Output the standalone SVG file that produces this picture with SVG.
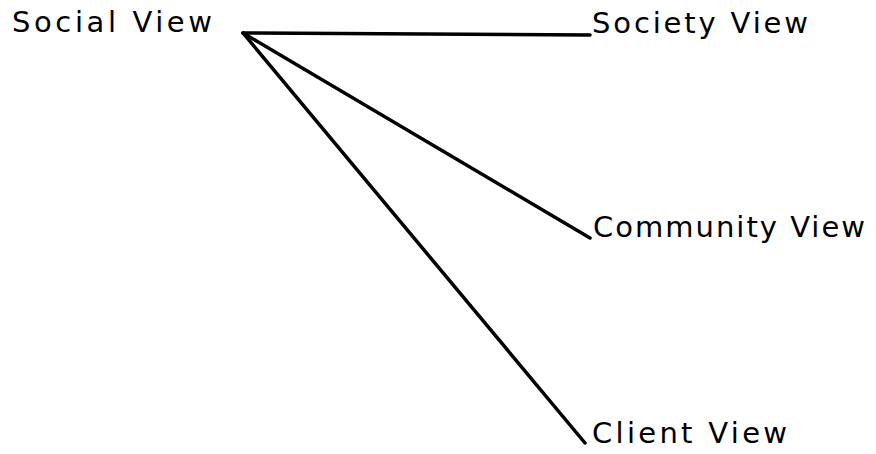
<svg xmlns="http://www.w3.org/2000/svg" width="876" height="454" viewBox="0 0 876 454">
<style>
  .lbl { font-family: "DejaVu Sans", "Liberation Sans", sans-serif; font-size: 29px; fill: #000; }
  .edge { stroke: #000; stroke-width: 3.5; fill: none; stroke-linecap: round; }
</style>
<rect width="876" height="454" fill="#fff"/>
<g id="connectors">
  <line class="edge" x1="243" y1="33" x2="590" y2="35"/>
  <line class="edge" x1="243" y1="33" x2="590" y2="238"/>
  <line class="edge" x1="243" y1="33" x2="585" y2="443"/>
</g>
<g id="social-view"><text class="lbl" x="12" y="32" textLength="200" lengthAdjust="spacing">Social View</text></g>
<g id="society-view"><text class="lbl" x="592" y="33" textLength="216" lengthAdjust="spacing">Society View</text></g>
<g id="community-view"><text class="lbl" x="593" y="237" textLength="272" lengthAdjust="spacing">Community View</text></g>
<g id="client-view"><text class="lbl" x="592" y="443" textLength="195" lengthAdjust="spacing">Client View</text></g>
</svg>
